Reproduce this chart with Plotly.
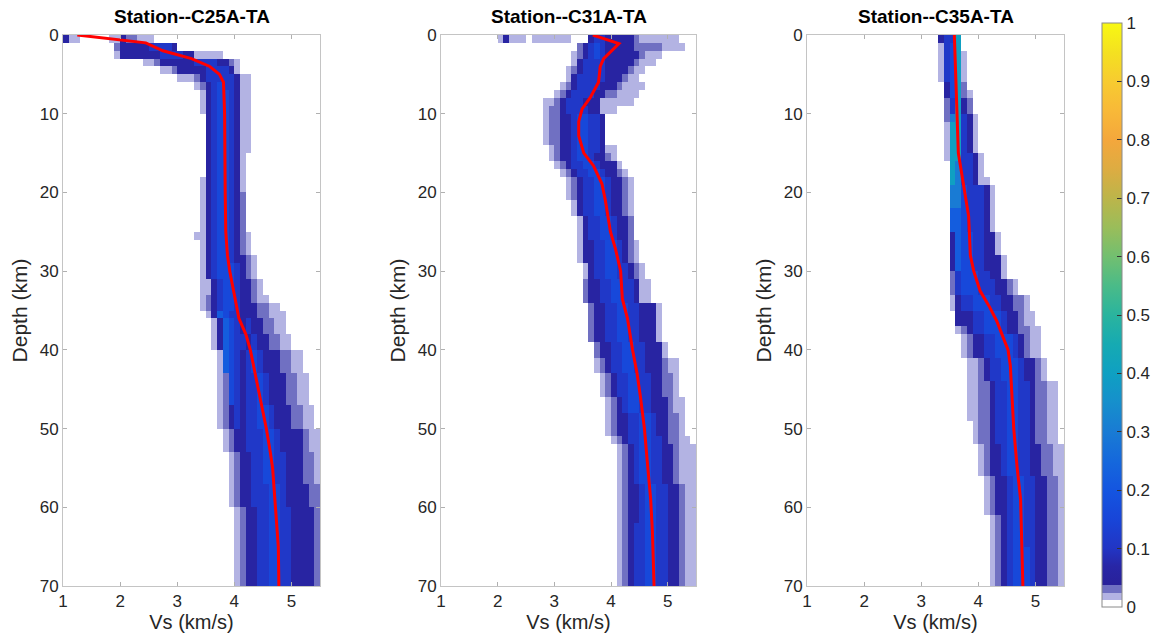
import numpy as np
import plotly.graph_objects as go

# ---- grid of the posterior Vs histograms (0.1 km/s x 1 km bins) ----
VS_MIN, VS_MAX, VS_STEP = 1.0, 5.5, 0.1
DEPTH_MAX, DEPTH_STEP = 70, 1.0
N_VS = 45
N_DEPTH = 70

# probability level of each histogram class used in the row tables
LEVELS = {'.': 0.0, 'a': 0.018, 'b': 0.031, 'c': 0.06, 'd': 0.11,
          'e': 0.16, 'f': 0.22, 'g': 0.30, 'h': 0.40}

# rows: (first depth row, last depth row, first Vs column, classes per column)
C25A_ROWS = [
    (0, 0, 0, "caa.....aacbbaaa"),
    (1, 1, 9, "bcccccddddc"),
    (2, 2, 9, "acccccccddddccaaaaa"),
    (3, 3, 14, "aabccccccddddccba"),
    (4, 4, 17, "aabcccccddddca"),
    (5, 5, 20, "aaabcdddddcaa"),
    (6, 6, 23, "abcdeddcaa"),
    (7, 9, 24, "acdeedcaa"),
    (10, 14, 25, "cdeedcaa"),
    (15, 17, 25, "cdeedca"),
    (18, 19, 24, "acdeedca"),
    (20, 24, 24, "acdeedcb"),
    (25, 25, 23, "aacdeedcba"),
    (26, 27, 24, "acdeedcba"),
    (28, 28, 24, "acdeedccba"),
    (29, 30, 24, "acdeeedcba"),
    (31, 32, 24, "aacdeedccba"),
    (33, 33, 24, "abcdeedccbaa"),
    (34, 34, 24, "abcdeedcccbbaa"),
    (35, 35, 25, "acfeddcccbbaaa"),
    (36, 37, 26, "acfedcdccbbaa"),
    (38, 39, 26, "acfeddcdccbbaa"),
    (40, 42, 27, "afedcdedcccbbaa"),
    (43, 46, 27, "abedcddedcccbbaa"),
    (47, 49, 27, "abcdcddeedcccbbaa"),
    (50, 52, 28, "abccdddeedccccbaa"),
    (53, 56, 29, "abccddeeddcccbba"),
    (57, 59, 29, "abccdddeedccccbb"),
    (60, 69, 30, "abccddeeddccccb"),
]

C31A_ROWS = [
    (0, 0, 10, "acaaa.aaaaaaa...cddcccccbaaaaaaa"),
    (1, 1, 24, "bcdedcccccbbbbbaaaa"),
    (2, 2, 23, "abcdedccccccbaaa"),
    (3, 3, 23, "acddddcccccbaaa"),
    (4, 4, 22, "abcddddccccbaa"),
    (5, 5, 22, "acdddddcccbaa"),
    (6, 6, 21, "abcddddcccbaaaa"),
    (7, 7, 20, "abcddddccbbaaaa"),
    (8, 8, 18, "aabcdddcccaaaaaa"),
    (9, 9, 18, "abbcddddccaaa"),
    (10, 13, 18, "abbccdeeddc"),
    (14, 14, 19, "abccdeeddcaa"),
    (15, 15, 19, "abccdeedccba"),
    (16, 16, 20, "abcddeedccca"),
    (17, 17, 21, "abcddeedccba"),
    (18, 20, 22, "abcddeedccba"),
    (21, 22, 23, "acddeedccba"),
    (23, 25, 24, "acddeedccb"),
    (26, 28, 24, "accddeedcba"),
    (29, 30, 25, "acddeeddcba"),
    (31, 33, 25, "bccddeeddcaa"),
    (34, 38, 26, "bccddeeddccca"),
    (39, 40, 27, "bccddeeddccca"),
    (41, 42, 27, "abcddeeddcccbaa"),
    (43, 45, 28, "abcddeeddccbba"),
    (46, 47, 29, "abcdeeddcccbaa"),
    (48, 50, 29, "abccddeedccbba"),
    (51, 51, 30, "abcddeeddcbbaa"),
    (52, 56, 31, "abcdeeddccbaaa"),
    (57, 61, 31, "abccdeeddccbaa"),
    (62, 69, 31, "abcddeeddccbaa"),
]

C35A_ROWS = [
    (0, 0, 23, "cddh"),
    (1, 1, 23, "adeh"),
    (2, 5, 23, "adeha"),
    (6, 6, 24, "cehb"),
    (7, 7, 24, "cehba"),
    (8, 9, 24, "bdhcb"),
    (10, 10, 24, "bghdca"),
    (11, 14, 24, "ahhdca"),
    (15, 15, 24, "ahhddca"),
    (16, 17, 25, "hgddca"),
    (18, 18, 25, "hgddcaa"),
    (19, 21, 25, "ggedddca"),
    (22, 24, 25, "ffedddca"),
    (25, 27, 25, "cfeeddcca"),
    (28, 29, 25, "cfeeddccca"),
    (30, 30, 25, "bdeeeddcca"),
    (31, 32, 25, "bdeeedddccba"),
    (33, 34, 25, "acddeeeddccbba"),
    (35, 36, 26, "cccddeeedccbaa"),
    (37, 37, 26, "abcddeeedccbbaa"),
    (38, 40, 27, "abccddeeedcbaa"),
    (41, 43, 28, "aabcddeeedccba"),
    (44, 48, 28, "aabbcddeeddcbbaa"),
    (49, 51, 29, "abbcddeeddcbbaa"),
    (52, 55, 30, "abccdeeddccbbaa"),
    (56, 60, 31, "abccdeeddccbba"),
    (61, 64, 32, "abcdeeddccbba"),
    (65, 69, 32, "abcdeeedccbba"),
]

# median Vs profiles (depth in km, Vs in km/s)
C25A_DEPTH = [0, 1, 2, 3, 4, 5, 6, 10, 20, 25, 28, 30, 33, 36, 38, 40, 45, 50, 53, 55, 60, 65, 70]
C25A_VS = [1.25, 2.45, 2.75, 3.25, 3.57, 3.74, 3.81, 3.83, 3.84, 3.85, 3.88, 3.92, 4.0,
           4.08, 4.2, 4.28, 4.42, 4.56, 4.63, 4.67, 4.72, 4.77, 4.78]

C31A_DEPTH = [0, 1.1, 3, 4, 6, 8, 9.4, 11, 12.8, 15, 16.6, 18.9, 21, 23, 25, 27.2, 30,
              33.5, 36, 40, 43, 46, 50, 55, 59, 63, 70]
C31A_VS = [3.68, 4.14, 3.87, 3.81, 3.78, 3.63, 3.49, 3.43, 3.43, 3.52, 3.69, 3.84, 3.9,
           3.94, 3.99, 4.08, 4.17, 4.2, 4.29, 4.38, 4.46, 4.52, 4.59, 4.65, 4.7, 4.73, 4.76]

C35A_DEPTH = [0, 10, 15, 19, 23, 28, 30, 32.5, 34.6, 36.3, 38.4, 40, 42, 50, 55, 59, 70]
C35A_VS = [3.58, 3.62, 3.65, 3.74, 3.83, 3.86, 3.92, 4.03, 4.2, 4.32, 4.44, 4.52, 4.56,
           4.62, 4.68, 4.74, 4.78]

STATIONS = ["Station--C25A-TA", "Station--C31A-TA", "Station--C35A-TA"]
X_TICKS = [1, 2, 3, 4, 5]
Y_TICKS = [0, 10, 20, 30, 40, 50, 60, 70]
CBAR_TICKS = [0, 0.1, 0.2, 0.3, 0.4, 0.5, 0.6, 0.7, 0.8, 0.9, 1]


def build_grid(rows):
    z = np.zeros((N_DEPTH, N_VS))
    for r0, r1, c0, pattern in rows:
        for r in range(r0, r1 + 1):
            for k, ch in enumerate(pattern):
                z[r, c0 + k] = LEVELS[ch]
    return z


vs_centers = VS_MIN + VS_STEP * (np.arange(N_VS) + 0.5)
depth_centers = DEPTH_STEP * (np.arange(N_DEPTH) + 0.5)

# low-probability classes in lavender, then a parula-like ramp
COLORSCALE = [
    [0.000, "#ffffff"], [0.012, "#ffffff"],
    [0.012, "#b3b3e3"], [0.024, "#b3b3e3"],
    [0.024, "#7070c2"], [0.038, "#7070c2"],
    [0.038, "#29219a"], [0.070, "#2826a6"],
    [0.100, "#2235c4"], [0.150, "#1845d8"],
    [0.200, "#1455e0"], [0.250, "#1568dc"],
    [0.300, "#197bd4"], [0.350, "#168fcc"],
    [0.400, "#0fa0c2"], [0.450, "#16aab2"],
    [0.500, "#2ab49e"], [0.550, "#4abb88"],
    [0.600, "#72bf70"], [0.650, "#9abd5a"],
    [0.700, "#bcb54a"], [0.750, "#ddac42"],
    [0.800, "#f4a73c"], [0.850, "#f8b938"],
    [0.900, "#f7cb30"], [0.950, "#f4e120"],
    [1.000, "#f8f812"],
]

W, H = 1153, 637
X_PIX = [(63, 320), (441, 696), (807, 1064)]
Y_TOP, Y_BOT = 35, 586
FONT = "Liberation Sans, Arial, Helvetica, sans-serif"

profiles = [
    (C25A_ROWS, C25A_DEPTH, C25A_VS),
    (C31A_ROWS, C31A_DEPTH, C31A_VS),
    (C35A_ROWS, C35A_DEPTH, C35A_VS),
]

fig = go.Figure()
layout_axes = {}
annotations = []
for i, (rows, dep, vs) in enumerate(profiles):
    sfx = "" if i == 0 else str(i + 1)
    xa, ya = "x" + sfx, "y" + sfx
    fig.add_trace(go.Heatmap(
        x=vs_centers, y=depth_centers, z=build_grid(rows),
        coloraxis="coloraxis", xaxis=xa, yaxis=ya, hoverinfo="skip"))
    fig.add_trace(go.Scatter(
        x=vs, y=dep, mode="lines", line=dict(color="#ff0000", width=3),
        xaxis=xa, yaxis=ya, showlegend=False, hoverinfo="skip"))
    x0, x1 = X_PIX[i]
    common = dict(showline=True, mirror="ticks", linecolor="#c4c4c4", linewidth=1,
                  ticks="inside", ticklen=4, tickcolor="#b0b0b0",
                  showgrid=False, zeroline=False, automargin=False,
                  tickfont=dict(size=17, color="#262626", family=FONT))
    layout_axes["xaxis" + sfx] = dict(
        common, domain=[x0 / W, x1 / W], range=[VS_MIN, VS_MAX],
        tickvals=X_TICKS, anchor=ya,
        title=dict(text="Vs (km/s)", font=dict(size=20, color="#262626", family=FONT),
                   standoff=3))
    layout_axes["yaxis" + sfx] = dict(
        common, domain=[1 - Y_BOT / H, 1 - Y_TOP / H], range=[DEPTH_MAX, 0],
        tickvals=Y_TICKS, anchor=xa,
        title=dict(text="Depth (km)", font=dict(size=21, color="#262626", family=FONT),
                   standoff=6))
    annotations.append(dict(
        text="<b>%s</b>" % STATIONS[i], x=(x0 + x1) / 2 / W, y=1 - 17 / H,
        xref="paper", yref="paper", xanchor="center", yanchor="middle",
        showarrow=False, font=dict(size=19, color="#000000", family=FONT)))

fig.update_layout(
    width=W, height=H, margin=dict(l=0, r=0, t=0, b=0, autoexpand=False),
    paper_bgcolor="white", plot_bgcolor="white",
    font=dict(family=FONT, color="#262626"),
    showlegend=False, annotations=annotations,
    coloraxis=dict(
        colorscale=COLORSCALE, cmin=0, cmax=1,
        colorbar=dict(
            x=1102 / W, xanchor="left", xpad=0, thickness=20,
            y=1 - 315 / H, yanchor="middle", ypad=0, len=584 / H, lenmode="fraction",
            outlinewidth=1, outlinecolor="#8a8a8a",
            ticks="inside", ticklen=5, tickcolor="#333333",
            tickvals=CBAR_TICKS, ticktext=[("%g" % t) for t in CBAR_TICKS],
            tickfont=dict(size=17, color="#262626", family=FONT))),
    **layout_axes,
)

fig.write_html("out.html")
